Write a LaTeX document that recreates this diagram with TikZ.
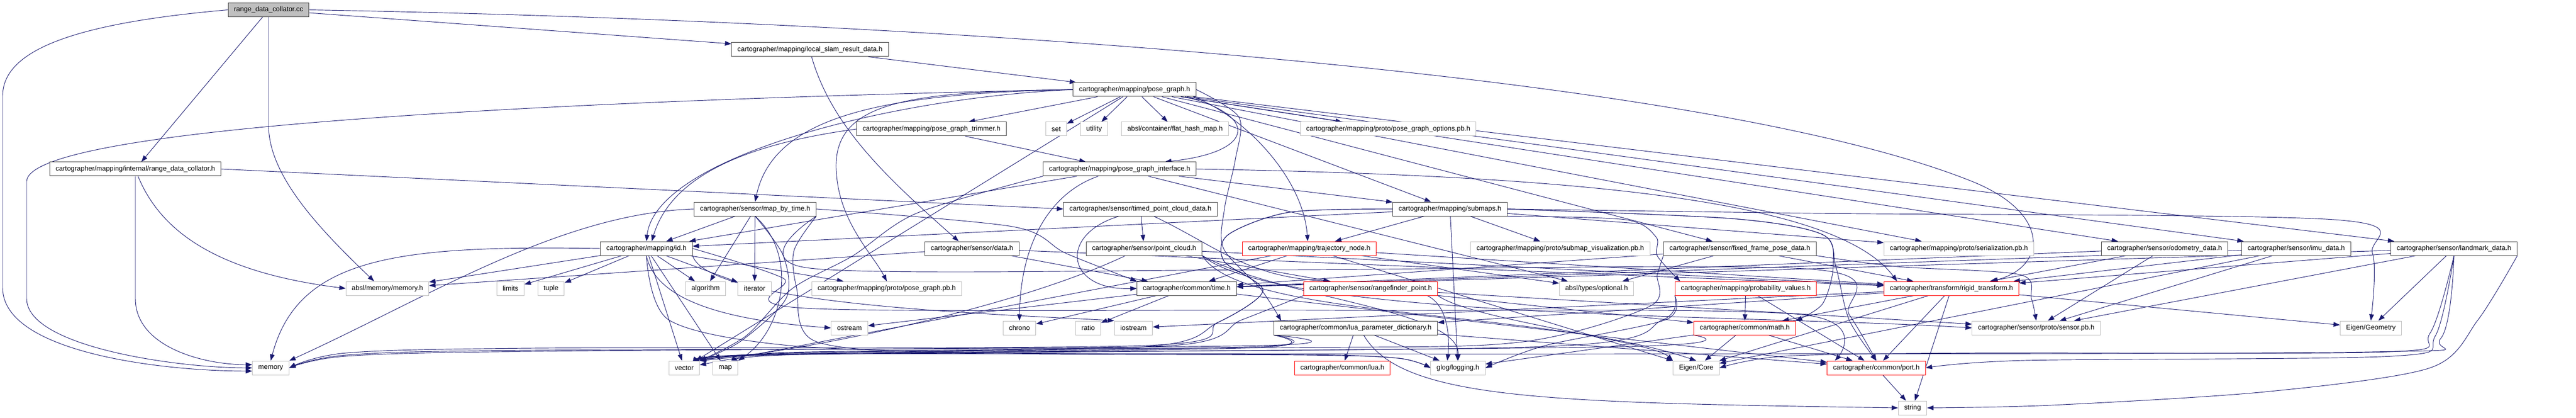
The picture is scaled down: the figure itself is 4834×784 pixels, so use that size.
\documentclass[tikz,border=0pt]{standalone}
\usepackage{fontspec}
\newfontfamily\gf{Liberation Sans}
\usetikzlibrary{arrows.meta,calc}
\pgfdeclarelayer{bg}
\pgfsetlayers{bg,main}
\definecolor{mblue}{HTML}{191970}
\definecolor{bord}{HTML}{404040}
\definecolor{lgray}{HTML}{BFBFBF}
\begin{document}
\begin{tikzpicture}[x=0.75pt,y=-0.75pt,
  nb/.style={draw=bord,fill=white,line width=0.75pt,inner xsep=8.25pt,inner ysep=0pt,minimum height=19.5pt,font=\gf\fontsize{9.66pt}{11pt}\selectfont},
  ng/.style={nb,draw=lgray},
  nr/.style={nb,draw=red},
  nc/.style={nb,fill=lgray},
  edge/.style={draw=mblue,line width=0.7pt,-{Triangle[length=9pt,width=6.5pt]}}]
\useasboundingbox (0,0) rectangle (4834,784);
% row 0
\node[nc] (cc) at (504,18.5) {range\_data\_collator.cc};
% row 1
\node[nb] (lslr) at (1520,93) {cartographer/mapping/local\_slam\_result\_data.h};
% row 2
\node[nb] (pg) at (2129,168) {cartographer/mapping/pose\_graph.h};
% row 3
\node[nb] (trim) at (1748,242) {cartographer/mapping/pose\_graph\_trimmer.h};
\node[ng] (set) at (1982,242) {set};
\node[ng] (utility) at (2053,242) {utility};
\node[ng] (fhm) at (2205,242) {absl/container/flat\_hash\_map.h};
\node[ng] (pgopt) at (2605,242) {cartographer/mapping/proto/pose\_graph\_options.pb.h};
% row 4
\node[nb] (lrdc) at (254,317) {cartographer/mapping/internal/range\_data\_collator.h};
\node[nb] (pgi) at (2101,317) {cartographer/mapping/pose\_graph\_interface.h};
% row 5
\node[nb] (mbt) at (1417,392) {cartographer/sensor/map\_by\_time.h};
\node[nb] (tpcd) at (2140,392) {cartographer/sensor/timed\_point\_cloud\_data.h};
\node[nb] (subm) at (2721,392) {cartographer/mapping/submaps.h};
% row 6
\node[nb] (id) at (1213,466) {cartographer/mapping/id.h};
\node[nb] (data) at (1824,466) {cartographer/sensor/data.h};
\node[nb] (pc) at (2147,466) {cartographer/sensor/point\_cloud.h};
\node[nr] (traj) at (2457,466) {cartographer/mapping/trajectory\_node.h};
\node[ng] (subvis) at (2928,466) {cartographer/mapping/proto/submap\_visualization.pb.h};
\node[nb] (ffpd) at (3265,466) {cartographer/sensor/fixed\_frame\_pose\_data.h};
\node[ng] (ser) at (3676,466) {cartographer/mapping/proto/serialization.pb.h};
\node[nb] (odom) at (4062,466) {cartographer/sensor/odometry\_data.h};
\node[nb] (imu) at (4309,466) {cartographer/sensor/imu\_data.h};
\node[nb] (land) at (4605,466) {cartographer/sensor/landmark\_data.h};
% row 7
\node[ng] (amem) at (727,541) {absl/memory/memory.h};
\node[ng] (limits) at (958,541) {limits};
\node[ng] (tuple) at (1034,541) {tuple};
\node[ng] (algorithm) at (1324,541) {algorithm};
\node[ng] (iterator) at (1416,541) {iterator};
\node[ng] (pgpb) at (1664,541) {cartographer/mapping/proto/pose\_graph.pb.h};
\node[nb] (time) at (2227,541) {cartographer/common/time.h};
\node[nr] (rfp) at (2572,541) {cartographer/sensor/rangefinder\_point.h};
\node[ng] (opt) at (2996,541) {absl/types/optional.h};
\node[nr] (prob) at (3276,541) {cartographer/mapping/probability\_values.h};
\node[nr] (rigid) at (3662,541) {cartographer/transform/rigid\_transform.h};
% row 8
\node[ng] (ostream) at (1594,615) {ostream};
\node[ng] (chrono) at (1913,615) {chrono};
\node[ng] (ratio) at (2042,615) {ratio};
\node[ng] (iostream) at (2127,615) {iostream};
\node[nb] (luapd) at (2544,615) {cartographer/common/lua\_parameter\_dictionary.h};
\node[nr] (math) at (3274,615) {cartographer/common/math.h};
\node[ng] (spb) at (3821,615) {cartographer/sensor/proto/sensor.pb.h};
\node[ng] (egeo) at (4449,615) {Eigen/Geometry};
% row 9
\node[ng] (memory) at (508,690) {memory};
\node[ng] (vector) at (1284,690) {vector};
\node[ng] (map) at (1361,690) {map};
\node[nr] (lua) at (2519,690) {cartographer/common/lua.h};
\node[ng] (glog) at (2736,690) {glog/logging.h};
\node[ng] (ecore) at (3183,690) {Eigen/Core};
\node[nr] (port) at (3521,690) {cartographer/common/port.h};
% row 10
\node[ng] (string) at (3589,765) {string};

\begin{pgfonlayer}{bg}
% range_data_collator.cc
\draw[edge] (cc) -- (lrdc);
\draw[edge] (cc.west) .. controls (120,45) and (5,100) .. (5,180) -- (5,540) .. controls (5,660) and (300,696) .. ($(memory.west)+(0,6)$);
\draw[edge] (cc.south) -- (504,235) .. controls (504,330) and (600,430) .. ($(amem.north)+(-25,0)$);
\draw[edge] (cc) -- (lslr);
\draw[edge] (cc.east) .. controls (1800,40) and (3200,140) .. (3700,340) .. controls (3850,400) and (3840,500) .. ($(rigid.north)+(75,0)$);
% range_data_collator.h
\draw[edge] (lrdc.south) -- (254,560) .. controls (254,650) and (380,684) .. ($(memory.west)+(0,-6)$);
\draw[edge] ($(lrdc.south)+(5,0)$) .. controls (300,430) and (400,510) .. (amem.west);
\draw[edge] (lrdc.east) -- (tpcd.west);
% local_slam_result_data.h
\draw[edge] (lslr) -- (pg);
\draw[edge] ($(lslr.south)+(3,0)$) .. controls (1560,235) and (1660,330) .. ($(data.north)+(-25,0)$);
% pose_graph.h
\draw[edge] (pg.west) .. controls (1200,185) and (55,230) .. (50,340) -- (50,560) .. controls (50,650) and (330,690) .. (memory.west);
\draw[edge] (pg) -- (set);
\draw[edge] (pg) -- (utility);
\draw[edge] (pg) -- (fhm);
\draw[edge] (pg) -- (pgopt);
\draw[edge] (pg) -- (trim);
\draw[edge] ($(pg.south)+(95,0)$) .. controls (2360,215) and (2360,285) .. ($(pgi.north)+(85,0)$);
\draw[edge] (pg) -- (vector);
\draw[edge] plot[smooth] coordinates {(pg.east) (2325,220) (2318,300) (2298,390) (2296,466) (2365,541) ($(luapd.north west)+(14,0)$)};
\draw[edge] (pg.west) .. controls (1650,185) and (1230,300) .. (id.north);
\draw[edge] (pg.west) .. controls (1700,172) and (1555,190) .. (1570,330) .. controls (1578,420) and (1640,480) .. (pgpb.north);
\draw[edge] (pg) -- (ser);
\draw[edge] (pg) -- (subm);
\draw[edge] (pg) -- (ffpd);
\draw[edge] (pg) -- (odom);
\draw[edge] (pg) -- (imu);
\draw[edge] (pg) -- (land);
\draw[edge] ($(pg.south)+(110,0)$) .. controls (2330,215) and (2445,330) .. ($(traj.north)+(-3,0)$);
\draw[edge] (pg.west) .. controls (1650,175) and (1450,220) .. (mbt.north);
% pose_graph_trimmer.h
\draw[edge] (trim.west) .. controls (1400,270) and (1260,330) .. ($(id.north)+(10,0)$);
\draw[edge] (trim) -- (pgi);
% pose_graph_interface.h
\draw[edge] ($(pgi.south)+(-40,0)$) .. controls (1975,360) and (1915,450) .. (chrono.north);
\draw[edge] plot[smooth] coordinates {(pgi.south west) (1720,400) (1600,480) (1487,541) (1400,630) (vector.north east)};
\draw[edge] (pgi) -- (opt);
\draw[edge] (pgi) -- (id);
\draw[edge] (pgi) -- (subm);
\draw[edge] (pgi.east) .. controls (3000,330) and (3450,380) .. ($(rigid.north west)+(25,0)$);
% map_by_time.h
\draw[edge] (mbt) -- (algorithm);
\draw[edge] (mbt) -- (iterator);
\draw[edge] (mbt) -- (id);
\draw[edge] (mbt.south) .. controls (1500,480) and (1470,620) .. (map.north east);
\draw[edge] (mbt.west) .. controls (1050,400) and (800,560) .. (memory.north east);
\draw[edge] plot[smooth] coordinates {(mbt.south) (1470,480) (1475,560) (1390,640) (vector.north east)};
\draw[edge] plot[smooth] coordinates {(mbt.south east) (1520,503) (2400,506) (3400,505) (3470,590) (port.north)};
\draw[edge] plot[smooth] coordinates {(mbt.east) (1900,425) (2000,475) (time.north west)};
\draw[edge] plot[smooth] coordinates {(mbt.south east) (1490,470) (1495,541) (1530,640) (1800,662) (2450,666) (2625,672) (glog.west)};
% id.h
\draw[edge] (id) -- (algorithm);
\draw[edge] (id) -- (iterator);
\draw[edge] (id) -- (limits);
\draw[edge] (id) -- (tuple);
\draw[edge] (id) -- (amem);
\draw[edge] (id) -- (pgpb);
\draw[edge] (id) -- (map);
\draw[edge] (id) -- (vector);
\draw[edge] (id.south east) .. controls (1330,575) and (1900,590) .. (iostream.north west);
\draw[edge] (id.south) .. controls (1230,560) and (1350,600) .. (ostream.west);
\draw[edge] (id.west) .. controls (750,460) and (560,480) .. (memory.north);
\draw[edge] plot[smooth] coordinates {(id.east) (1470,522) (1510,578) (2500,582) (3380,590) ($(port.north west)+(15,0)$)};
\draw[edge] plot[smooth] coordinates {(id.south) (1255,600) (1480,648) (1900,662) (2450,665) (2625,672) (glog.west)};
% timed_point_cloud_data.h
\draw[edge] ($(tpcd.south)+(-40,0)$) .. controls (1985,440) and (2000,545) .. (time.west);
\draw[edge] (tpcd) -- (pc);
\draw[edge] ($(tpcd.south)+(25,0)$) .. controls (2280,460) and (2340,520) .. ($(rfp.north)+(-75,0)$);
% data.h
\draw[edge] (data) -- (amem);
\draw[edge] (data) -- (time);
\draw[edge] (data) -- (rigid);
% point_cloud.h
\draw[edge] ($(pc.south)+(-35,0)$) .. controls (1900,580) and (1500,660) .. (vector.north east);
\draw[edge] (pc.south east) .. controls (2330,600) and (2900,580) .. (ecore.north);
\draw[edge] (pc.south east) .. controls (2400,600) and (3300,590) .. (spb.west);
\draw[edge] (pc) -- (rfp);
\draw[edge] (pc) -- (rigid);
\draw[edge] (pc.south east) .. controls (2400,560) and (2740,580) .. (glog.north);
% trajectory_node.h
\draw[edge] (traj) -- (time);
\draw[edge] (traj) -- (opt);
\draw[edge] (traj) -- (rigid);
\draw[edge] (traj) -- (ecore);
\draw[edge] (traj) -- (vector);
% submaps.h
\draw[edge] plot[smooth] coordinates {(subm.west) (2420,398) (2305,440) (2297,490) (2370,545) (2285,605) (2150,648) (1000,653) (650,662) (memory.east)};
\draw[edge] plot[smooth] coordinates {(subm.west) (2420,398) (2305,440) (2297,490) (2370,545) (2285,605) (2150,650) (1480,662) (vector.north east)};
\draw[edge] plot[smooth] coordinates {(subm.east) (3400,400) (4380,412) (4452,475) (egeo.north)};
\draw[edge] plot[smooth] coordinates {(subm.east) (3250,410) (3420,440) (3440,500) (3420,570) (math.north east)};
\draw[edge] plot[smooth] coordinates {(subm.east) (3250,410) (3420,440) (3445,500) (3470,600) (port.north)};
\draw[edge] (subm) -- (id);
\draw[edge] plot[smooth] coordinates {(subm.south east) (3050,412) (3108,445) (3110,480) ($(prob.north west)+(10,0)$)};
\draw[edge] (subm) -- (ser);
\draw[edge] (subm) -- (subvis);
\draw[edge] (subm) -- (traj);
\draw[edge] (subm) -- (glog);
% fixed_frame_pose_data.h
\draw[edge] plot[smooth] coordinates {(ffpd.south west) (3110,515) (3095,575) (2850,642) (2400,652) (1000,657) (650,666) (memory.east)};
\draw[edge] (ffpd) -- (opt);
\draw[edge] (ffpd) -- (time);
\draw[edge] (ffpd) -- (rigid);
\draw[edge] plot[smooth] coordinates {(ffpd.south east) (3560,500) (3790,515) (3812,560) (spb.north)};
% odometry_data.h
\draw[edge] (odom) -- (time);
\draw[edge] (odom) -- (spb);
\draw[edge] (odom) -- (rigid);
% imu_data.h
\draw[edge] (imu) -- (ecore);
\draw[edge] (imu) -- (time);
\draw[edge] (imu) -- (spb);
\draw[edge] (imu) -- (rigid);
% landmark_data.h
\draw[edge] (land) -- (egeo);
\draw[edge] (land) -- (spb);
\draw[edge] (land) -- (rigid);
\draw[edge] (land) -- (time);
\draw[edge] plot[smooth] coordinates {(land.south) (4560,625) (4480,660) (3700,662) (3350,668) (ecore.east)};
\draw[edge] plot[smooth] coordinates {(land.south) (4570,630) (4490,668) (3800,676) (port.east)};
\draw[edge] plot[smooth] coordinates {(land.south) (4580,635) (4450,660) (3000,664) (1500,664) (vector.north east)};
\draw[edge] plot[smooth] coordinates {(land.south east) (4650,600) (4560,690) (4250,735) (3850,760) (string.east)};
% rangefinder_point.h
\draw[edge] plot[smooth] coordinates {(rfp.south west) (2330,600) (2200,648) (1480,661) (vector.north east)};
\draw[edge] (rfp.south east) .. controls (2760,600) and (3100,640) .. (ecore.north west);
\draw[edge] (rfp) -- (math);
\draw[edge] (rfp) -- (spb);
\draw[edge] ($(rfp.south east)+(-20,0)$) .. controls (2720,575) and (2720,640) .. ($(glog.north)+(-20,0)$);
% probability_values.h
\draw[edge] (prob) -- (math);
\draw[edge] (prob) -- (port);
\draw[edge] plot[smooth] coordinates {(prob.south west) (3120,600) (2900,650) (1500,663) (vector.north east)};
\draw[edge] plot[smooth] coordinates {(prob.south west) (3125,600) (2900,648) (glog.east)};
% time.h
\draw[edge] (time) -- (chrono);
\draw[edge] (time) -- (ratio);
\draw[edge] (time) -- (ostream);
\draw[edge] (time) -- (port);
% lua_parameter_dictionary.h
\draw[edge] (luapd) -- (lua);
\draw[edge] (luapd) -- (glog);
\draw[edge] (luapd) -- (port);
\draw[edge] ($(luapd.south)+(15,0)$) .. controls (2630,750) and (2900,755) .. (string.west);
\draw[edge] plot[smooth] coordinates {(luapd.south west) (2370,648) (1000,659) (650,668) (memory.east)};
\draw[edge] plot[smooth] coordinates {(luapd.south west) (2365,650) (1480,664) (vector.north east)};
\draw[edge] plot[smooth] coordinates {(luapd.south west) (2360,652) (1500,665) (map.north east)};
% math.h
\draw[edge] (math) -- (ecore);
\draw[edge] (math) -- (port);
\draw[edge] (math) -- (glog);
\draw[edge] plot[smooth] coordinates {(math.south west) (3050,650) (1500,665) (vector.north east)};
% rigid_transform.h
\draw[edge] (rigid) -- (math);
\draw[edge] (rigid) -- (ecore);
\draw[edge] (rigid) -- (port);
\draw[edge] (rigid) -- (string);
\draw[edge] (rigid) -- (egeo);
\draw[edge] (rigid) -- (luapd);
\draw[edge] (rigid) -- (iostream);
% port.h
\draw[edge] (port) -- (string);
\end{pgfonlayer}
\end{tikzpicture}
\end{document}
